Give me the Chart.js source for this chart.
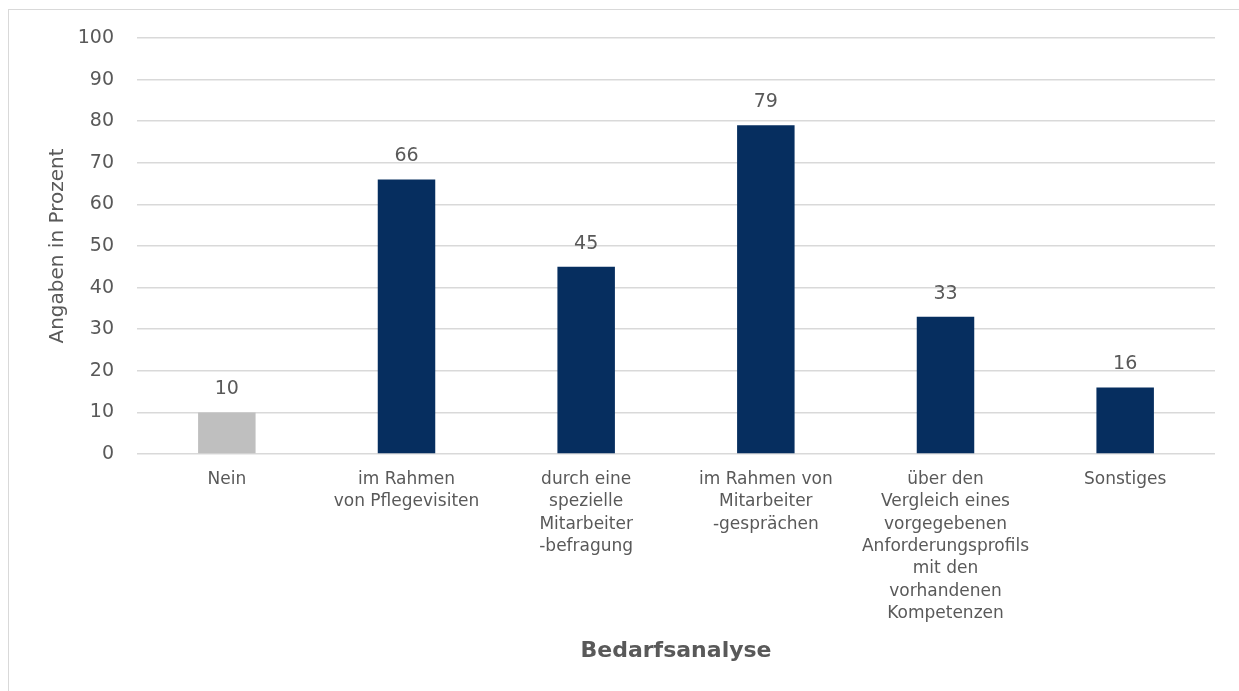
<!DOCTYPE html>
<html>
<head>
<meta charset="utf-8">
<title>Bedarfsanalyse</title>
<script src="https://cdn.jsdelivr.net/npm/chart.js@4/dist/chart.umd.min.js"></script>
<style>
  html, body { margin: 0; padding: 0; overflow: hidden; background: #fff; }
  #frame {
    position: absolute; left: 8px; top: 9px; width: 1400px; height: 900px;
    border: 1.5px solid #d9d9d9; box-sizing: border-box;
  }
  #wrap { position: absolute; left: 0; top: 0; width: 1239px; height: 691px; }
</style>
</head>
<body>
<div id="frame"></div>
<div id="wrap"><canvas id="bar-chart"></canvas></div>
<script>
// Bedarfsanalyse - Angaben in Prozent
const categories = [
  ["Nein"],
  ["im Rahmen", "von Pflegevisiten"],
  ["durch eine", "spezielle", "Mitarbeiter", "-befragung"],
  ["im Rahmen von", "Mitarbeiter", "-gesprächen"],
  ["über den", "Vergleich eines", "vorgegebenen", "Anforderungsprofils", "mit den", "vorhandenen", "Kompetenzen"],
  ["Sonstiges"]
];
const values = [10, 66, 45, 79, 33, 16];
const barColors = ["#bfbfbf", "#062e5f", "#062e5f", "#062e5f", "#062e5f", "#062e5f"];
const yTicks = [0, 10, 20, 30, 40, 50, 60, 70, 80, 90, 100];

const textColor = "#595959";
const fontFamily = "'DejaVu Sans', sans-serif";

// draws the number above every bar
const valueLabels = {
  id: "valueLabels",
  afterDatasetsDraw(chart) {
    const ctx = chart.ctx;
    const meta = chart.getDatasetMeta(0);
    ctx.save();
    ctx.font = "19px " + fontFamily;
    ctx.fillStyle = textColor;
    ctx.textAlign = "center";
    ctx.textBaseline = "middle";
    meta.data.forEach((bar, i) => {
      ctx.fillText(values[i], bar.x, bar.y - 23);
    });
    ctx.restore();
  }
};

new Chart(document.getElementById("bar-chart"), {
  type: "bar",
  data: {
    labels: categories,
    datasets: [{
      data: values,
      backgroundColor: barColors,
      barPercentage: 0.32,
      categoryPercentage: 1
    }]
  },
  plugins: [valueLabels],
  options: {
    responsive: true,
    maintainAspectRatio: false,
    animation: false,
    layout: { padding: { left: 40, right: 24, top: 38, bottom: 20 } },
    plugins: {
      legend: { display: false },
      tooltip: { enabled: false }
    },
    scales: {
      x: {
        grid: { display: false },
        border: { display: false },
        ticks: {
          color: textColor,
          font: { family: fontFamily, size: 17, lineHeight: 1.32 },
          maxRotation: 0,
          autoSkip: false,
          padding: 6
        },
        title: {
          display: true,
          text: "Bedarfsanalyse",
          color: textColor,
          font: { family: fontFamily, size: 22, weight: "bold" },
          padding: { top: 0, bottom: 7 }
        },
        afterFit(scale) { scale.height = 691 - 20 - 454; }
      },
      y: {
        min: 0,
        max: 100,
        afterBuildTicks(scale) { scale.ticks = yTicks.map(v => ({ value: v })); },
        grid: { color: "#d9d9d9", lineWidth: 1.5, drawTicks: false },
        border: { display: false },
        ticks: {
          color: textColor,
          font: { family: fontFamily, size: 19 },
          padding: 23
        },
        title: {
          display: true,
          text: "Angaben in Prozent",
          color: textColor,
          font: { family: fontFamily, size: 20 },
          padding: { top: 6, bottom: 0 }
        },
        afterFit(scale) { scale.width = 137 - 40; }
      }
    }
  }
});
</script>
</body>
</html>
